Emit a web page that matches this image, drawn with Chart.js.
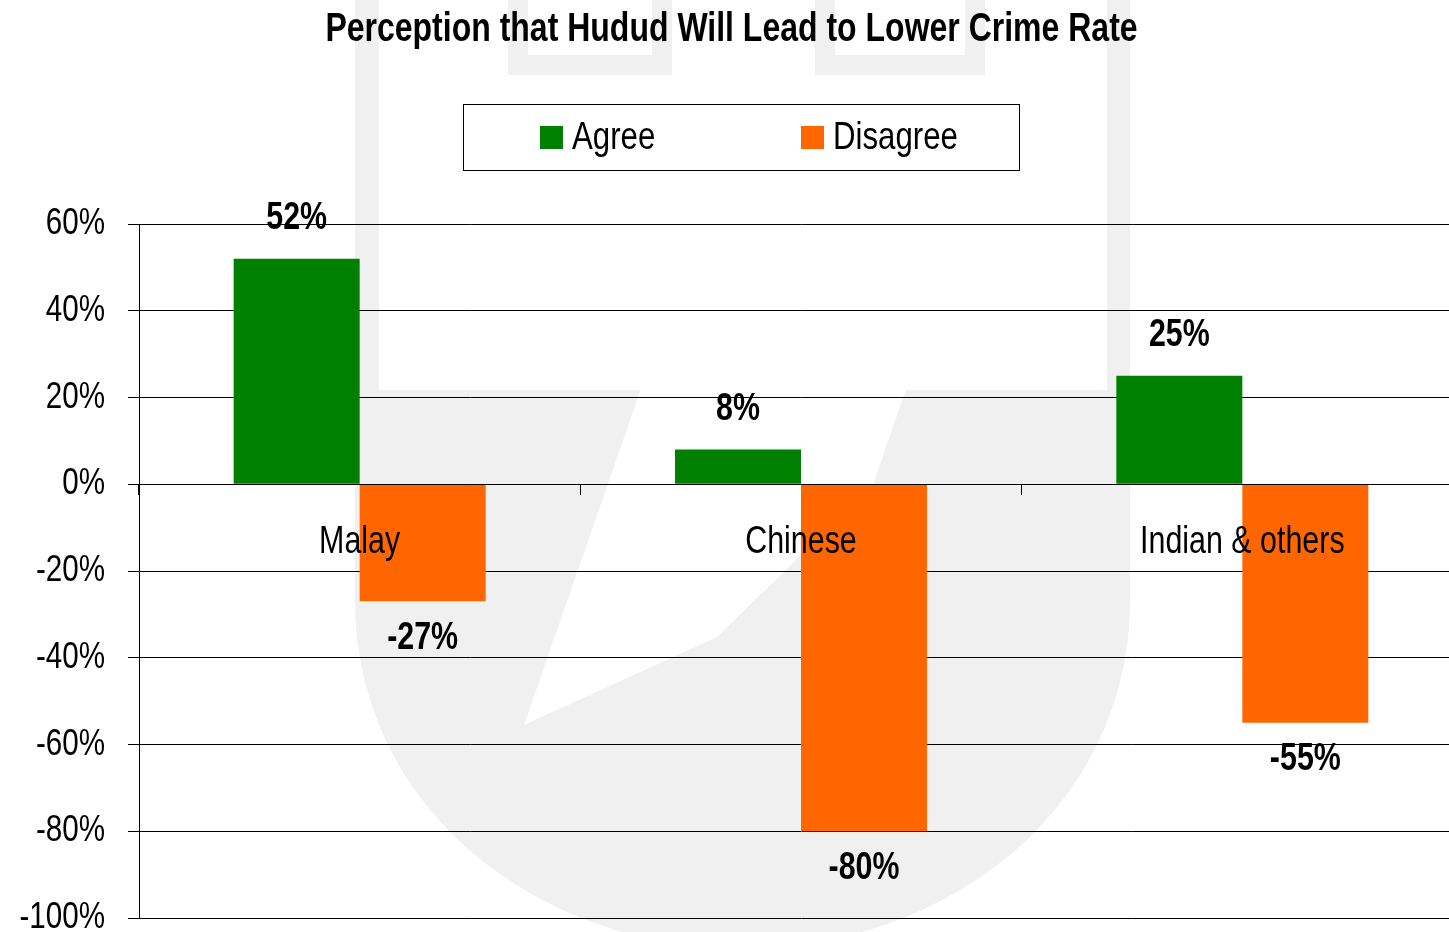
<!DOCTYPE html>
<html lang="en">
<head>
<meta charset="UTF-8">
<title>Perception that Hudud Will Lead to Lower Crime Rate</title>
<script src="https://cdn.jsdelivr.net/npm/chart.js"></script>
<style>
  html, body { margin: 0; padding: 0; overflow: hidden; background: #fff; }
  /* canvas is a bit wider than the window: the original plot runs past the right edge */
  .chart-box { position: relative; width: 1470px; height: 932px; }
</style>
</head>
<body>
<div class="chart-box"><canvas id="crimeChart"></canvas></div>
<script>
const categories = ['Malay', 'Chinese', 'Indian & others'];
const seriesLabels = ['Agree', 'Disagree'];
const agreeValues = [52, 8, 25];
const disagreeValues = [-27, -80, -55];
const yTicks = [60, 40, 20, 0, -20, -40, -60, -80, -100];

const FONT = '"Liberation Sans", Arial, sans-serif';
const NARROW = 0.8; // no Arial Narrow here, so text is squeezed horizontally

// squeeze every text the chart draws
const narrowText = {
    id: 'narrowText',
    beforeInit(chart) {
        const ctx = chart.ctx;
        const fill = ctx.fillText.bind(ctx);
        ctx.fillText = function (text, x, y) {
            this.save();
            this.translate(x, y);
            this.scale(NARROW, 1);
            fill(text, 0, 0);
            this.restore();
        };
    }
};

// faint logo in the background
const watermark = {
    id: 'watermark',
    beforeDraw(chart) {
        const ctx = chart.ctx;
        ctx.save();
        ctx.fillStyle = '#f0f0f0';
        ctx.beginPath();
        ctx.moveTo(355, 0);
        ctx.lineTo(1130, 0);
        ctx.lineTo(1130, 600);
        ctx.bezierCurveTo(1130, 800, 960, 945, 742, 950);
        ctx.bezierCurveTo(525, 945, 355, 800, 355, 600);
        ctx.closePath();
        ctx.fill();
        ctx.fillStyle = '#fff';
        ctx.fillRect(379, 0, 728, 390);
        ctx.beginPath();
        ctx.moveTo(641, 389);
        ctx.lineTo(906, 389);
        ctx.lineTo(873, 485);
        ctx.lineTo(717, 637);
        ctx.lineTo(524, 725);
        ctx.closePath();
        ctx.fill();
        ctx.fillStyle = '#f0f0f0';
        ctx.fillRect(508, 0, 164, 75);
        ctx.fillRect(815, 0, 170, 75);
        ctx.fillStyle = '#fff';
        ctx.fillRect(528, 0, 124, 55);
        ctx.fillRect(835, 0, 130, 55);
        ctx.restore();
    }
};

// legend with a frame, drawn from the datasets
const framedLegend = {
    id: 'framedLegend',
    afterDraw(chart) {
        const ctx = chart.ctx;
        ctx.save();
        ctx.fillStyle = '#fff';
        ctx.fillRect(463.5, 104.5, 556, 66);
        ctx.strokeStyle = '#000';
        ctx.lineWidth = 1;
        ctx.strokeRect(463.5, 104.5, 556, 66);
        const startX = [540, 801];
        ctx.font = '39px ' + FONT;
        ctx.textBaseline = 'middle';
        ctx.textAlign = 'left';
        chart.data.datasets.forEach((ds, i) => {
            ctx.fillStyle = ds.backgroundColor;
            ctx.fillRect(startX[i], 126, 23, 23);
            ctx.fillStyle = '#000';
            ctx.fillText(ds.label, startX[i] + 32, 138);
        });
        ctx.restore();
    }
};

// value labels above / below each bar
const valueLabels = {
    id: 'valueLabels',
    afterDatasetsDraw(chart) {
        const ctx = chart.ctx;
        ctx.save();
        ctx.font = 'bold 38px ' + FONT;
        ctx.fillStyle = '#000';
        ctx.textAlign = 'center';
        ctx.textBaseline = 'middle';
        chart.data.datasets.forEach((ds, i) => {
            chart.getDatasetMeta(i).data.forEach((bar, j) => {
                const v = ds.data[j];
                const y = v >= 0 ? bar.y - 40 : bar.y + 37;
                ctx.fillText(v + '%', bar.x, y);
            });
        });
        ctx.restore();
    }
};

new Chart(document.getElementById('crimeChart'), {
    type: 'bar',
    data: {
        labels: categories,
        datasets: [
            { label: seriesLabels[0], data: agreeValues, backgroundColor: '#008000' },
            { label: seriesLabels[1], data: disagreeValues, backgroundColor: '#FF6600' }
        ]
    },
    options: {
        responsive: true,
        maintainAspectRatio: false,
        animation: false,
        events: [],
        categoryPercentage: 0.571,
        barPercentage: 1,
        layout: { padding: { left: 0, right: 7, top: 0, bottom: 14 } },
        plugins: {
            legend: { display: false },
            tooltip: { enabled: false },
            title: {
                display: true,
                text: 'Perception that Hudud Will Lead to Lower Crime Rate',
                color: '#000',
                font: { family: FONT, size: 40, weight: 'bold', lineHeight: 1.2 },
                padding: { top: 6, bottom: 170 }
            }
        },
        scales: {
            x: {
                type: 'category',
                position: { y: 0 },
                grid: { drawOnChartArea: false, offset: true, color: '#000', tickLength: 10 },
                border: { display: true, color: '#000', z: 1 },
                ticks: { z: 1, color: '#000', padding: 25, font: { family: FONT, size: 38 } }
            },
            y: {
                min: -100,
                max: 60,
                afterBuildTicks: scale => { scale.ticks = yTicks.map(v => ({ value: v })); },
                afterFit: scale => {
                    scale.width = 139;
                    scale.paddingTop = 0;
                    scale.paddingBottom = 0;
                },
                grid: { color: '#000', tickLength: 11 },
                border: { color: '#000' },
                ticks: {
                    color: '#000',
                    padding: 23,
                    font: { family: FONT, size: 37 },
                    callback: v => v + '%'
                }
            }
        }
    },
    plugins: [narrowText, watermark, framedLegend, valueLabels]
});
</script>
</body>
</html>
